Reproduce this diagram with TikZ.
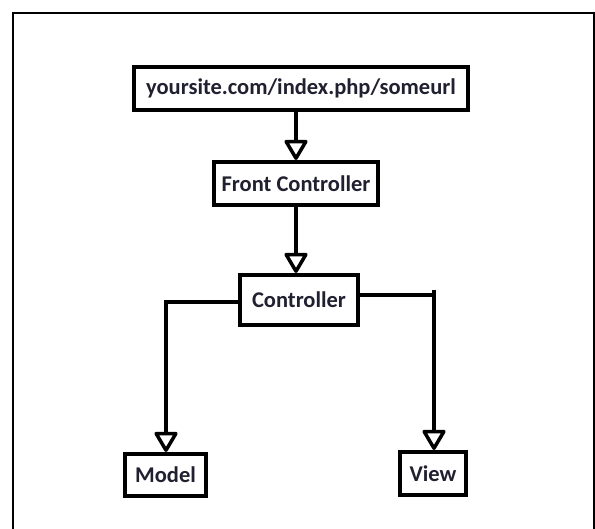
\documentclass[tikz,border=0pt]{standalone}
\usepackage{fontspec}
\setmainfont{Carlito}
\usetikzlibrary{arrows.meta}
\definecolor{labelink}{RGB}{32,32,48}
\tikzset{
  box/.style={draw=black, line width=4pt, fill=white, inner sep=0pt,
    font=\bfseries\fontsize{22.5}{26}\selectfont, text=labelink},
  link/.style={line width=4pt, draw=black},
  arr/.style={link, -{Triangle[open, round, width=25pt, length=22pt, line width=3.5pt]}}
}
\begin{document}
\begin{tikzpicture}[x=1pt, y=1pt]
  \useasboundingbox (0,0) rectangle (595,529);
  % outer frame, open at the bottom edge
  \begin{scope}
    \clip (0,0) rectangle (595,529);
    \draw[line width=2pt] (13,-10) -- (13,516) -- (594,516) -- (594,-10);
  \end{scope}

  \node[box, minimum width=334pt, minimum height=43pt] (url) at (301,440.5) {yoursite.com/index.php/someurl};
  \node[box, minimum width=164pt, minimum height=43pt] (fc) at (296,345.5) {Front Controller};
  \node[box, minimum width=118pt, minimum height=50pt] (ctrl) at (299,229) {Controller};
  \node[box, minimum width=81pt, minimum height=42pt] (model) at (165.5,54) {Model};
  \node[box, minimum width=66pt, minimum height=43pt] (view) at (433,55.5) {View};

  \coordinate (lc) at (166,227);
  \coordinate (rc) at (434,234);

  \draw[arr] (url.south -| fc.north) -- (fc.north);
  \draw[arr] (fc.south) -- (fc.south |- ctrl.north);
  \draw[link] (ctrl.west |- lc) -- (lc);
  \draw[arr] ([yshift=2pt]lc) -- (lc |- model.north);
  \draw[link] (ctrl.east |- rc) -- (rc);
  \draw[arr] ([yshift=5pt]rc) -- (rc |- view.north);
\end{tikzpicture}
\end{document}
